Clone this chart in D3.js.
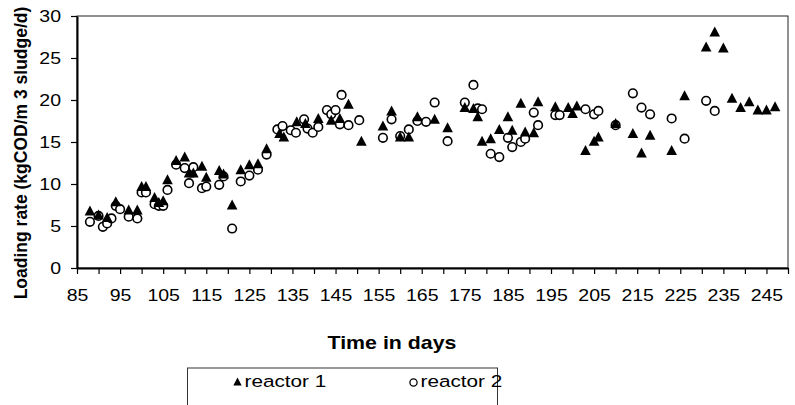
<!DOCTYPE html>
<html>
<head>
<meta charset="utf-8">
<script src="https://cdn.jsdelivr.net/npm/d3@7"></script>
<style>
  body { margin: 0; background: #fff; }
  svg text { font-family: "Liberation Sans", Arial, sans-serif; fill: #000; }
</style>
</head>
<body>
<div id="chart"></div>
<script>

////////////////////
/////// DATA ///////
////////////////////

/* reactor 1 (black triangles) */
var r1Days = [88, 90, 92, 94, 97, 99, 100, 101, 103, 104, 105, 106, 108, 110, 111, 112, 114, 115, 118, 119,
	121, 123, 125, 127, 129, 132, 133, 136, 138, 141, 144, 146, 148, 151, 156, 158, 160, 162, 164, 168,
	171, 175, 177, 178, 179, 181, 183, 185, 186, 188, 189, 191, 192, 196, 199, 200, 201, 203, 205, 206,
	210, 214, 216, 218, 223, 226, 231, 233, 235, 237, 239, 241, 243, 245, 247];
var r1Rate = [6.8, 6.3, 6.0, 7.9, 6.9, 6.9, 9.7, 9.7, 8.4, 7.8, 8.0, 10.5, 12.8, 13.2, 11.3, 11.3, 12.1, 10.8, 11.6, 11.2,
	7.5, 11.7, 12.3, 12.4, 14.2, 16.0, 15.6, 17.4, 17.2, 17.8, 17.6, 17.8, 19.5, 15.1, 16.9, 18.7, 15.6, 15.6, 18.0, 17.7,
	16.7, 19.1, 19.0, 18.0, 15.1, 15.4, 16.5, 18.0, 16.4, 19.6, 16.2, 16.1, 19.8, 19.2, 19.1, 18.4, 19.3, 14.0, 15.1, 15.6,
	17.2, 16.0, 13.7, 15.8, 14.0, 20.5, 26.3, 28.1, 26.2, 20.2, 19.1, 19.8, 18.8, 18.8, 19.2];

/* reactor 2 (open circles) */
var r2Days = [88, 90, 91, 92, 93, 94, 95, 97, 99, 100, 101, 103, 104, 105, 106, 108, 110, 111, 112, 114,
	115, 118, 119, 121, 123, 125, 127, 129, 131.5, 132.7, 134.6, 135.8, 137.7, 138.5, 139.7, 141, 143, 144, 145, 146,
	146.4, 148, 150.5, 156, 158, 160, 162, 164, 166, 168, 171, 175, 177, 178, 179, 181, 183, 185, 186, 188,
	189, 191, 192, 196, 197, 203, 205, 206, 210, 214, 216, 218, 223, 226, 231, 233];
var r2Rate = [5.5, 6.2, 4.9, 5.3, 5.9, 7.4, 7.0, 6.1, 5.9, 9.0, 9.0, 7.6, 7.4, 7.4, 9.3, 12.3, 11.9, 10.1, 12.0, 9.5,
	9.7, 9.9, 10.9, 4.7, 10.3, 11.0, 11.7, 13.5, 16.5, 16.9, 16.4, 16.1, 17.7, 16.6, 16.1, 16.8, 18.8, 18.3, 18.8, 17.1,
	20.6, 17.0, 17.6, 15.5, 17.7, 15.7, 16.5, 17.5, 17.4, 19.7, 15.1, 19.7, 21.8, 19.0, 18.9, 13.6, 13.2, 15.5, 14.4, 15.0,
	15.4, 18.5, 17.0, 18.2, 18.2, 18.9, 18.3, 18.7, 17.0, 20.8, 19.1, 18.3, 17.8, 15.4, 19.9, 18.7];

/* axis ticks */
var xTicks = d3.range(85, 251, 5);
var xLabels = d3.range(85, 246, 10);
var yTicks = [0, 5, 10, 15, 20, 25, 30];

var seriesNames = ["reactor 1", "reactor 2"];

var r1 = r1Days.map(function(d, i){ return {day: d, rate: r1Rate[i]}; });
var r2 = r2Days.map(function(d, i){ return {day: d, rate: r2Rate[i]}; });

////////////////////
/////// SVG ////////
////////////////////

var width = 795, height = 405;
var plot = {left: 77, right: 788, top: 16, bottom: 268};
var stretch = 1.22; // the original picture is a bit wider than tall fonts

var svg = d3.select('#chart').append('svg')
	.attr('width', width)
	.attr('height', height);

var xScale = d3.scaleLinear().domain([85, 250]).range([plot.left, plot.right]);
var yScale = d3.scaleLinear().domain([0, 30]).range([plot.bottom, plot.top]);

/* plot frame */
svg.append('rect')
	.attr('x', plot.left).attr('y', plot.top)
	.attr('width', plot.right - plot.left)
	.attr('height', plot.bottom - plot.top)
	.style('fill', 'none')
	.style('stroke', '#222')
	.style('stroke-width', 1);

/* x axis */
var xAxis = svg.append('g')
	.attr('transform', 'translate(0,' + plot.bottom + ')')
	.call(d3.axisBottom(xScale)
		.tickValues(xTicks)
		.tickSize(6)
		.tickSizeOuter(0)
		.tickFormat(function(d){ return xLabels.indexOf(d) >= 0 ? d : ''; }));

xAxis.select('.domain').style('stroke', '#000').style('stroke-width', 2);
xAxis.selectAll('.tick line').style('stroke', '#000').style('stroke-width', 1.2);
xAxis.selectAll('.tick text')
	.attr('y', 33).attr('dy', null)
	.attr('transform', 'scale(' + stretch + ',1)')
	.style('font-size', '16px');

/* y axis */
var yAxis = svg.append('g')
	.attr('transform', 'translate(' + plot.left + ',0)')
	.call(d3.axisLeft(yScale)
		.tickValues(yTicks)
		.tickSize(6)
		.tickSizeOuter(0));

yAxis.select('.domain').style('stroke', '#000').style('stroke-width', 2);
yAxis.selectAll('.tick line').style('stroke', '#000').style('stroke-width', 1.2);
yAxis.selectAll('.tick text')
	.attr('x', -16 / stretch)
	.attr('transform', 'scale(' + stretch + ',1)')
	.style('font-size', '16px');

svg.selectAll('.tick text').style('font-family', '"Liberation Sans", Arial, sans-serif').style('fill', '#000');

/* axis titles */
svg.append('text')
	.attr('transform', 'translate(392,349) scale(' + stretch + ',1)')
	.attr('text-anchor', 'middle')
	.style('font-size', '17.5px')
	.style('font-weight', 'bold')
	.text('Time in days');

svg.append('text')
	.attr('transform', 'translate(27,153) rotate(-90)')
	.attr('text-anchor', 'middle')
	.style('font-size', '17.5px')
	.style('font-weight', 'bold')
	.text('Loading rate (kgCOD/m 3 sludge/d)');

////////////////////
////// MARKS ///////
////////////////////

var tri = 'M0,-5.5L5.3,4.5L-5.3,4.5Z';

svg.selectAll('.r2-point')
	.data(r2).enter()
	.append('circle').attr('class', 'r2-point')
	.attr('cx', function(d){ return xScale(d.day); })
	.attr('cy', function(d){ return yScale(d.rate); })
	.attr('r', 4.3)
	.style('fill', '#fff')
	.style('stroke', '#000')
	.style('stroke-width', 1.6);

svg.selectAll('.r1-point')
	.data(r1).enter()
	.append('path').attr('class', 'r1-point')
	.attr('transform', function(d){ return 'translate(' + xScale(d.day) + ',' + yScale(d.rate) + ')'; })
	.attr('d', tri)
	.style('fill', '#000');

////////////////////
////// LEGEND //////
////////////////////

var legend = svg.append('g');

legend.append('rect')
	.attr('x', 187.5).attr('y', 368)
	.attr('width', 310).attr('height', 45)
	.style('fill', '#fff')
	.style('stroke', '#333')
	.style('stroke-width', 1);

legend.append('path')
	.attr('transform', 'translate(237.5,382)')
	.attr('d', 'M0,-4.5L4.2,3.5L-4.2,3.5Z')
	.style('fill', '#000');

legend.append('circle')
	.attr('cx', 413.5).attr('cy', 382.5).attr('r', 3.6)
	.style('fill', '#fff')
	.style('stroke', '#000')
	.style('stroke-width', 1.3);

legend.selectAll('.legend-label')
	.data(seriesNames).enter()
	.append('text').attr('class', 'legend-label')
	.attr('transform', function(d, i){ return 'translate(' + (i == 0 ? 244.5 : 420.5) + ',387) scale(' + stretch + ',1)'; })
	.style('font-size', '17px')
	.text(function(d){ return d; });

</script>
</body>
</html>
